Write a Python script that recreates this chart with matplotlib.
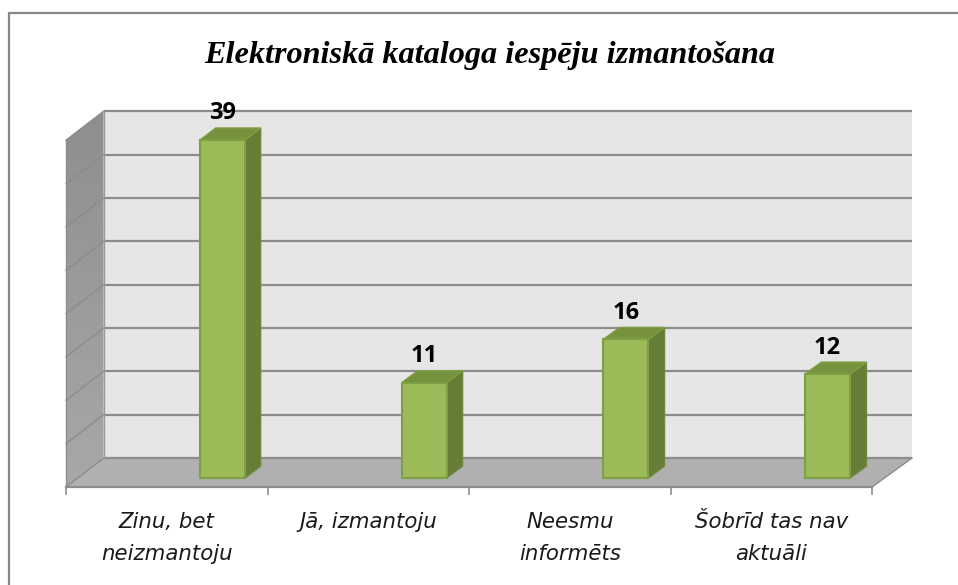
import numpy as np
import matplotlib
matplotlib.use("Agg")
import matplotlib.pyplot as plt
from matplotlib.colors import LinearSegmentedColormap
from matplotlib.patches import Polygon

categories = ["Zinu, bet\nneizmantoju", "Jā, izmantoju", "Neesmu\ninformēts", "Šobrīd tas nav\naktuāli"]
values = [39, 11, 16, 12]
value_ticks = [0, 5, 10, 15, 20, 25, 30, 35, 40]
title = "Elektroniskā kataloga iespēju izmantošana"

# one category is 201.5 px wide, one value unit is 8.67 px high on the front plane
CAT_PX = 201.5
VAL_PX = 8.67


def project(x, v, depth=0.0):
    # oblique view: depth 0 is the front edge of the floor, 1 is the back wall
    dx = (37.6 + x / 4 * 2.4) / CAT_PX
    dy = 29 / VAL_PX
    return (x + depth * dx, v + depth * dy)


def face(points, **kw):
    ax.add_patch(Polygon([project(*p) for p in points], closed=True, **kw))


fig = plt.figure(figsize=(9.58, 5.85), dpi=100)
ax = fig.add_axes([0, 0, 1, 1])
xlim = (-66 / CAT_PX, (958 - 66) / CAT_PX)
ylim = ((487 - 585) / VAL_PX, 487 / VAL_PX)

# chart frame
ax.plot([xlim[0] + 9 / CAT_PX, xlim[0] + 9 / CAT_PX, xlim[1]],
        [ylim[0], ylim[1] - 13 / VAL_PX, ylim[1] - 13 / VAL_PX],
        color="#868686", lw=1.6, solid_capstyle="butt")

# walls and floor
face([(0, 0, 1), (4, 0, 1), (4, 40, 1), (0, 40, 1)], fc="#e6e6e6", ec="none", zorder=1)
face([(0, 0, 0), (4, 0, 0), (4, 0, 1), (0, 0, 1)], fc="#b0b0b0", ec="none", zorder=1)

wall = Polygon([project(0, 0, 0), project(0, 0, 1), project(0, 40, 1), project(0, 40, 0)],
               closed=True, fc="none", ec="none", transform=ax.transData)
ax.add_patch(wall)
grad = ax.imshow(np.linspace(0, 1, 64).reshape(-1, 1),
                 cmap=LinearSegmentedColormap.from_list("w", ["#8e8e8e", "#a8a8a8"]),
                 extent=(project(0, 0, 0)[0], project(0, 0, 1)[0], 0, 44), aspect="auto",
                 zorder=1, origin="upper")
grad.set_clip_path(wall)

# gridlines, back wall then side wall
for v in value_ticks:
    x0, y0 = project(0, v, 1)
    x1, y1 = project(4, v, 1)
    ax.plot([x0, x1], [y0, y1], color="#8c8c8c", lw=1.6, zorder=2, solid_capstyle="butt")
    ax.plot(*zip(project(0, v, 0), project(0, v, 1)), color="#8c8c8c", lw=1.0, zorder=2)
ax.plot(*zip(project(4, 0, 0), project(4, 0, 1)), color="#8c8c8c", lw=1.0, zorder=2)
ax.plot([0, 0], [0, 40], color="#8c8c8c", lw=1.0, zorder=2)
x0, _ = project(0, 0, 1)
ax.plot([x0, x0], [project(0, 0, 1)[1], project(0, 40, 1)[1]], color="#9a9a9a", lw=1.0, zorder=2)

# front axis and its ticks
ax.plot([0, 4], [0, 0], color="#8c8c8c", lw=1.6, zorder=2)
for i in range(len(categories) + 1):
    ax.plot([i, i], [0, -7 / VAL_PX], color="#8c8c8c", lw=1.2, zorder=2)

# bars
bar_w = 0.223
for i, v in enumerate(values):
    x0 = i + 0.607
    x1 = x0 + bar_w
    d0, d1 = 0.31, 0.72
    face([(x0, 0, d0), (x1, 0, d0), (x1, v, d0), (x0, v, d0)], fc="#9bbb59", ec="#7f9f45", lw=1.5, zorder=4)
    face([(x1, 0, d0), (x1, 0, d1), (x1, v, d1), (x1, v, d0)], fc="#667d38", ec="#6f8a3e", lw=1.0, zorder=3)
    face([(x0, v, d0), (x1, v, d0), (x1, v, d1), (x0, v, d1)], fc="#76923c", ec="#7f9f45", lw=1.0, zorder=3)
    lx, ly = project(x0 + bar_w / 2, v, d0)
    ax.text(lx, ly + 3.05, str(v), ha="center", va="center", fontsize=17,
            fontweight="bold", family="Open Sans", color="black", zorder=5)

# category labels
for i, label in enumerate(categories):
    ax.text(i + 0.5, -(512 - 487) / VAL_PX, label, ha="center", va="top", fontsize=15.3,
            style="italic", family="DejaVu Sans", color="#1a1a1a", linespacing=1.72)

ax.text((490 - 66) / CAT_PX, (487 - 55) / VAL_PX, title, ha="center", va="center", fontsize=23.2,
        fontweight="bold", style="italic", family="Liberation Serif", color="black")

ax.set_xlim(xlim)
ax.set_ylim(ylim)
ax.axis("off")
fig.savefig("out.png", dpi=100)
